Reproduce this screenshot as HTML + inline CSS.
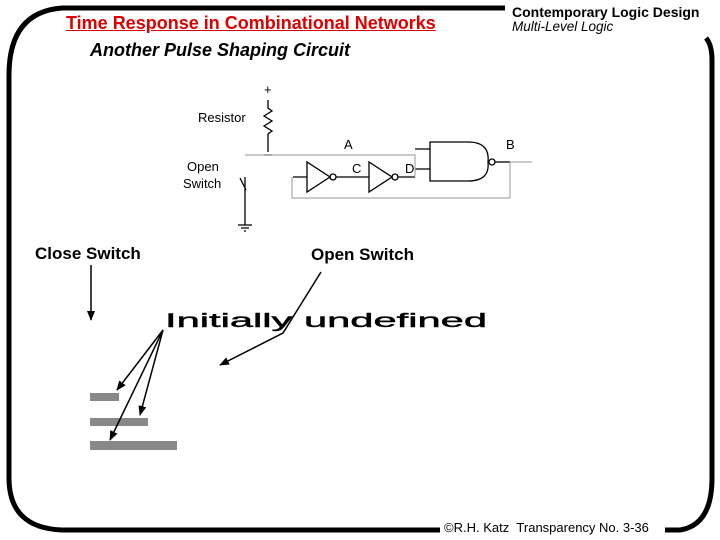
<!DOCTYPE html>
<html><head><style>
body{margin:0;width:720px;height:540px;background:#fff;overflow:hidden;position:relative;font-family:"Liberation Sans",sans-serif}
.t{position:absolute;white-space:nowrap}
</style></head><body>
<svg width="720" height="540" style="position:absolute;left:0;top:0">
<g fill="none" stroke="#000" stroke-width="5">
<path d="M505,8 H62 Q9,12 9,75 V478 Q9,528 62,530 H440"/>
<path d="M665,530 H680 Q712,525 712,478 V60 Q712,45 706,38"/>
</g>
<g font-family="Liberation Sans,sans-serif" font-size="13" fill="#000">
<text x="264" y="94">+</text>
<text x="198" y="122">Resistor</text>
<text x="187" y="171">Open</text>
<text x="183" y="188">Switch</text>
<text x="344" y="149">A</text>
<text x="352" y="173">C</text>
<text x="405" y="173">D</text>
<text x="506" y="149">B</text>
</g>
<g fill="none" stroke="#000" stroke-width="1.3">
<path d="M268,100 V108 l4,3 -8,5 8,5 -8,5 8,5 -4,3 V152"/>
<path d="M264,155 h8"/>
<path d="M245,177 V196 M240,178 l6,12 M245,196 V225 M238,225 h14 M241,228 h8 M244,231 h2"/>
<path d="M293,177 H307 M307,162 V192 L330,177 Z"/>
<circle cx="333" cy="177" r="3"/>
<path d="M336,177 H369 M369,162 V192 L392,177 Z"/>
<circle cx="395" cy="177" r="3"/>
<path d="M398,177 H415"/>
<path d="M415,149 H430 M415,169 H430"/>
<path d="M430,142 V181 H468 Q490,181 488,162 Q490,142 468,142 Z"/>
<circle cx="492" cy="162" r="3"/>
<path d="M495,162 H510"/>
</g>
<g fill="none" stroke="#aaa" stroke-width="1.2">
<path d="M245,155 H415 V177"/>
<path d="M510,162 H532 M510,162 V198 H292 V177"/>
</g>
<g fill="#888">
<rect x="90" y="393" width="29" height="8"/>
<rect x="90" y="418" width="58" height="8"/>
<rect x="90" y="441" width="87" height="9"/>
</g>
<defs><marker id="a" markerWidth="10" markerHeight="8" refX="9" refY="4" orient="auto" markerUnits="userSpaceOnUse"><path d="M0,0 L10,4 L0,8 Z" fill="#000"/></marker></defs>
<g stroke="#000" stroke-width="1.5" fill="none" marker-end="url(#a)">
<path d="M91,265 V320"/>
<path d="M321,272 L283,333 L220,365"/>
<path d="M163,330 L117,390"/>
<path d="M163,330 L140,415"/>
<path d="M163,330 L110,440"/>
</g>
<text x="165" y="327" font-family="Liberation Sans,sans-serif" font-size="19" stroke="#000" stroke-width="0.4" textLength="322" lengthAdjust="spacingAndGlyphs" fill="#000">Initially undefined</text>
</svg>
<div class="t" style="left:66px;top:13px;font-size:18px;font-weight:bold;color:#d00;text-decoration:underline">Time Response in Combinational Networks</div>
<div class="t" style="left:90px;top:40px;font-size:18px;font-weight:bold;font-style:italic">Another Pulse Shaping Circuit</div>
<div class="t" style="left:512px;top:4px;font-size:14px;font-weight:bold">Contemporary Logic Design</div>
<div class="t" style="left:512px;top:19px;font-size:13.5px;font-style:italic">Multi-Level Logic</div>
<div class="t" style="left:35px;top:244px;font-size:17px;font-weight:bold">Close Switch</div>
<div class="t" style="left:311px;top:245px;font-size:17px;font-weight:bold">Open Switch</div>
<div class="t" style="left:444px;top:520px;font-size:13px">©R.H. Katz&nbsp;&nbsp;Transparency No. 3-36</div>
</body></html>
